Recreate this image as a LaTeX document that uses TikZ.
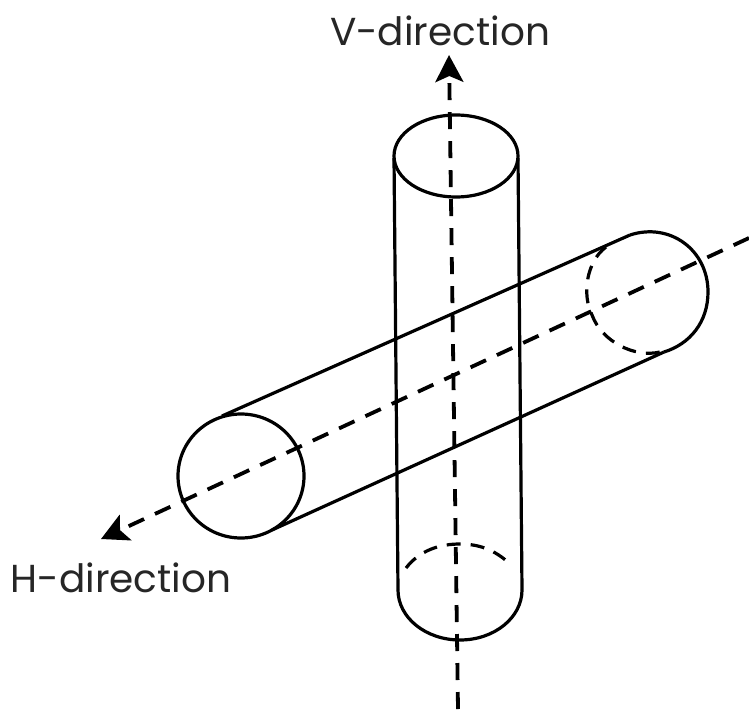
\documentclass[tikz,border=0pt]{standalone}
\usepackage{fontspec}
\setmainfont{Poppins}
\usetikzlibrary{arrows.meta}
\tikzset{
 solidln/.style={line width=3.2pt,black},
 hiddenln/.style={line width=3.2pt,black,dash pattern=on 14pt off 10pt},
 dashln/.style={line width=3.8pt,black,dash pattern=on 17pt off 12pt},
 lbl/.style={font=\fontsize{39}{42}\selectfont,inner sep=0pt,text=black!85,anchor=base},
 tip/.style={-{Stealth[length=27pt,width=28pt,inset=6pt]}}
}
\begin{document}
\begin{tikzpicture}[x=1pt,y=-1pt]
\useasboundingbox (0,0) rectangle (749,709);
\draw[solidln] (456,156) ellipse [x radius=62,y radius=41];
\draw[solidln] (394,158) -- (398,590);
\draw[solidln] (518,158) -- (522,590);
\draw[solidln] (398,590) arc[start angle=180,end angle=0,x radius=62,y radius=50];
\draw[hiddenln] (406,568) .. controls (420,550) and (440,544) .. (460,544) .. controls (482,544) and (498,552) .. (512,566);
\draw[solidln] (241,476) ellipse [x radius=63,y radius=62];
\draw[solidln] (222,416) -- (630,235);
\draw[solidln] (272,530) -- (664,352);
\draw[solidln] (630,235) .. controls (670,222) and (708,250) .. (708,292) .. controls (708,322) and (690,344) .. (664,352);
\draw[hiddenln] (606,247) .. controls (586,262) and (582,295) .. (592,315) .. controls (602,342) and (635,358) .. (660,352);
\coordinate (vb) at (458,709);
\coordinate (vt) at (449,55);
\coordinate (hr) at (749,238);
\coordinate (hl) at (101,539);
\draw[dashln,tip] (vb) -- (vt);
\draw[dashln,tip] (hr) -- (hl);
\node[lbl] (v) at (440,46) {V-direction};
\node[lbl] (h) at (121,592) {H-direction};
\end{tikzpicture}
\end{document}
